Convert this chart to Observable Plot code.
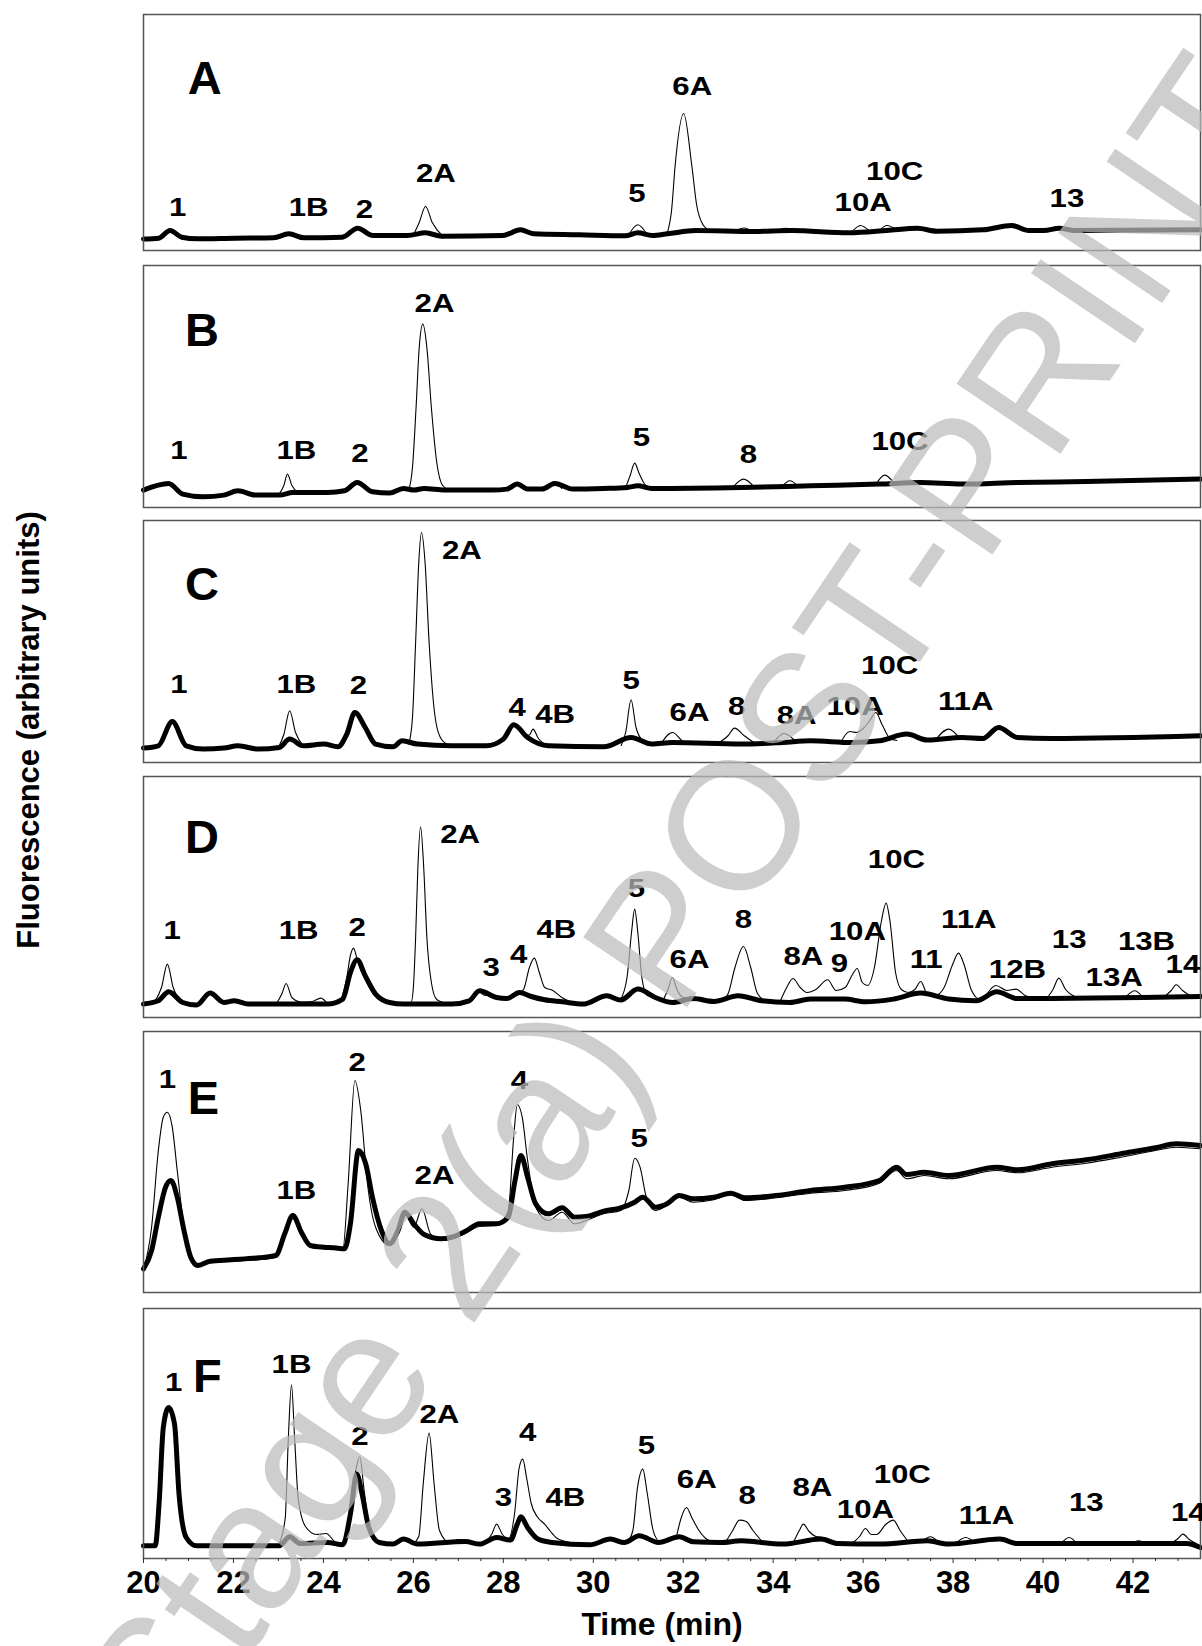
<!DOCTYPE html>
<html><head><meta charset="utf-8">
<script src="https://cdn.jsdelivr.net/npm/d3@7"></script>
<script src="https://cdn.jsdelivr.net/npm/@observablehq/plot@0.6"></script>
<style>
body{margin:0;background:#fff;}
#page{position:relative;width:1202px;height:1646px;overflow:hidden;background:#fff;font-family:"Liberation Sans",Arial,sans-serif;}
.panel{position:absolute;left:0;}
.overlay{position:absolute;left:0;top:0;pointer-events:none;}
</style></head><body><div id="page"></div>
<script>
// ---------- data (time in min, fluorescence in arbitrary units) ----------
const xMajorTicks = [20,22,24,26,28,30,32,34,36,38,40,42];
const xMinorTicks = [20.5,21,21.5,22.5,23,23.5,24.5,25,25.5,26.5,27,27.5,28.5,29,29.5,30.5,31,31.5,32.5,33,33.5,34.5,35,35.5,36.5,37,37.5,38.5,39,39.5,40.5,41,41.5,42.5,43];

// Panel A
const thickA = [[20,11.5],[20.34,12.3],[20.59,20],[20.85,13.3],[21.19,11.7],[22.04,12.3],[22.89,12.7],[23.23,16.7],[23.57,12.7],[24.42,13.3],[24.76,22.3],[25.1,15],[25.87,15],[26.27,17.7],[26.63,14.3],[27.99,15],[28.38,20.7],[28.67,16.7],[29.69,15.7],[30.71,14.7],[30.99,17.7],[31.31,15],[31.65,16.7],[32.28,20],[33.56,19],[34.41,20],[35.68,17.7],[36.53,20],[37.21,22.3],[37.64,19.3],[38.66,20.7],[39.3,25],[39.68,20],[40.02,20],[40.36,22.3],[40.7,20],[43.5,20.7]];
const thinA = [
  [[26.0,15.5],[26.13,28],[26.27,44],[26.42,28],[26.65,14.5]],
  [[30.78,15],[30.99,25.7],[31.2,15.5]],
  [[31.64,17],[31.74,40],[31.82,85],[32.01,137],[32.19,85],[32.3,45],[32.45,25],[32.6,19.5]],
  [[33.15,19.3],[33.35,22.5],[33.55,19]],
  [[34.1,20],[34.28,22.3],[34.45,20]],
  [[35.75,18.5],[35.94,25],[36.15,19]],
  [[36.35,19.5],[36.53,25],[36.75,20.5]],
  [[40.15,20],[40.36,24],[40.6,20]]
];
const labelsA = [["1",20.76,35],["1B",23.67,35],["2",24.91,32.7],["2A",26.5,68.3],["5",30.97,48.3],["6A",32.2,156],["10A",36.0,40],["10C",36.7,70.7],["13",40.53,43.3]];

// Panel B
const thickB = [[20,17.4],[20.56,24],[20.87,13.4],[21.33,10.7],[21.79,12.4],[22.1,16.7],[22.48,12.4],[23.02,12.4],[23.32,15],[24.09,15],[24.47,16.7],[24.75,25],[25.09,15.7],[25.47,14.4],[25.78,19],[26.01,17.4],[26.24,19],[26.7,17.4],[27.77,17.4],[28.08,18.4],[28.31,23.4],[28.54,18.4],[28.85,18.4],[29.15,24],[29.54,18.4],[30.23,19],[30.76,20],[30.99,21.7],[31.3,19],[33.29,20],[34.83,21.7],[36.36,23.4],[37.28,25],[38.2,23.4],[39.43,25],[40.96,26],[43.5,28.4]];
const thinB = [
  [[23.0,12.4],[23.12,22],[23.2,33.4],[23.3,22],[23.45,14]],
  [[25.9,17.5],[25.98,40],[26.06,100],[26.13,160],[26.21,183.4],[26.3,160],[26.4,100],[26.52,45],[26.65,22],[26.8,17.4]],
  [[29.0,19],[29.12,26],[29.3,19]],
  [[30.72,20],[30.82,32],[30.92,44.4],[31.02,34],[31.15,23],[31.3,19]],
  [[33.1,20],[33.34,28.4],[33.58,20.5]],
  [[34.2,21],[34.37,26.7],[34.55,21.3]],
  [[36.28,23],[36.48,32.4],[36.7,23.6]]
];
const labelsB = [["1",20.79,48.4],["1B",23.4,48.4],["2",24.81,45.7],["2A",26.47,195.7],["5",31.07,61.7],["8",33.45,45],["10C",36.82,57.4]];

// Panel C
const thickC = [[20,14.4],[20.33,16.7],[20.64,41],[20.95,16.7],[21.33,13.4],[21.79,14.4],[22.1,16.7],[22.56,13.4],[23.02,15],[23.25,23.4],[23.55,16.7],[24.01,18.4],[24.32,15.7],[24.52,28.4],[24.7,50],[24.93,35],[25.16,18.4],[25.55,15.7],[25.75,21.7],[26.09,18.4],[26.85,16.7],[27.62,16.7],[28.0,23.4],[28.23,37.7],[28.54,25],[29.0,16.7],[30.23,15.7],[30.84,25],[31.3,18.4],[31.76,20],[33.29,18.4],[34.21,20],[34.83,21.7],[35.75,20],[36.36,21.7],[36.97,28.4],[37.43,22.4],[38.2,25],[38.66,24],[39.01,35],[39.43,25],[40.2,24],[43.5,26.7]];
const thinC = [
  [[23.0,15],[23.12,28],[23.25,51.7],[23.38,30],[23.55,17]],
  [[25.9,18.5],[25.98,45],[26.05,120],[26.12,200],[26.18,230],[26.26,200],[26.35,120],[26.47,50],[26.6,25],[26.78,17.4]],
  [[28.5,27],[28.58,27.5],[28.66,33.4],[28.78,24],[29.0,17]],
  [[30.62,17],[30.72,30],[30.84,62.7],[30.95,35],[31.1,22],[31.3,18.4]],
  [[31.5,18.5],[31.76,30],[32.0,21],[32.2,19]],
  [[32.75,18.5],[33.0,27],[33.14,34.4],[33.35,27],[33.6,19]],
  [[34.0,19.5],[34.24,29],[34.5,21]],
  [[35.5,20],[35.7,31],[35.85,30],[36.0,34],[36.15,42],[36.28,50],[36.42,38],[36.6,24],[36.75,22]],
  [[37.6,22],[37.9,33.4],[38.15,24]]
];
const labelsC = [["1",20.79,70],["1B",23.4,70],["2",24.78,68.4],["2A",27.08,203.4],["4",28.31,46.7],["4B",29.15,40],["5",30.84,73.4],["6A",32.14,41.7],["8",33.19,47.7],["8A",34.52,38.4],["10A",35.82,47.7],["10C",36.59,88.4],["11A",38.28,52.7]];

// Panel D
const thickD = [[20,13.4],[20.33,16.7],[20.56,25.7],[20.87,15],[21.18,12.4],[21.48,24.4],[21.79,15],[22.02,16.7],[22.33,13.4],[24.09,13.4],[24.43,18.4],[24.6,45],[24.75,57.7],[24.93,41.7],[25.16,23.4],[25.47,15],[25.78,13.4],[26.85,13.4],[27.24,16.7],[27.47,26.7],[27.85,20],[28.08,19],[28.36,25],[28.62,21],[28.92,17.7],[29.31,15.7],[29.77,13.4],[30.3,21.7],[30.61,17.4],[30.99,28.4],[31.38,20],[31.76,15],[32.22,19],[32.68,16],[33.22,21.7],[33.75,16.7],[34.37,15],[34.83,18.4],[35.59,18.4],[36.05,15.7],[36.67,18.4],[37.28,24.4],[37.9,18.4],[38.51,16.7],[38.97,25.7],[39.43,19],[43.5,21]];
const thinD = [
  [[20.25,16],[20.4,30],[20.53,53.4],[20.66,30],[20.85,15.5]],
  [[22.95,13.5],[23.08,24],[23.17,34],[23.3,20],[23.5,15.5],[23.75,16],[23.94,19.4],[24.1,13.4]],
  [[24.4,18.4],[24.52,40],[24.6,62],[24.67,69.4],[24.75,58],[24.85,45]],
  [[25.7,14],[25.95,15],[26.0,30],[26.05,80],[26.1,150],[26.16,190.7],[26.23,150],[26.3,80],[26.4,35],[26.52,18],[26.75,14]],
  [[27.47,26.7],[27.6,22],[27.73,23.4],[27.9,19.5],[28.05,19]],
  [[28.36,25],[28.45,28],[28.58,50],[28.69,59.4],[28.8,45],[28.92,30],[29.1,27],[29.3,20],[29.5,15.5]],
  [[30.6,17.4],[30.75,40],[30.85,85],[30.92,108.4],[30.99,85],[31.08,40],[31.2,22],[31.4,20]],
  [[31.55,17],[31.66,28],[31.76,40],[31.86,28],[32.0,20],[32.2,19]],
  [[32.85,16],[33.0,24],[33.15,50],[33.34,71],[33.5,50],[33.65,24],[33.85,16]],
  [[34.15,15.5],[34.3,30],[34.44,39],[34.6,30],[34.75,25],[34.95,28],[35.21,37.7],[35.4,27],[35.6,30],[35.75,42],[35.87,49],[35.98,35],[36.1,32],[36.25,50],[36.4,95],[36.51,114.4],[36.6,95],[36.72,45],[36.85,28],[37.0,25],[37.15,28],[37.28,36],[37.42,24],[37.6,22],[37.8,30],[37.98,52],[38.12,64.4],[38.25,52],[38.4,28],[38.6,18],[38.95,32],[39.2,27],[39.4,28.4],[39.6,22],[39.8,20]],
  [[40.1,20],[40.22,28],[40.35,39.4],[40.5,28],[40.7,21]],
  [[41.85,21],[42.04,26.7],[42.2,21]],
  [[42.7,21],[42.85,27],[42.96,32.7],[43.1,27],[43.3,21]]
];
const labelsD = [["1",20.64,78.4],["1B",23.45,78.4],["2",24.75,81.7],["2A",27.04,174.4],["3",27.73,41.7],["4",28.34,54.4],["4B",29.18,80],["5",30.96,120.7],["6A",32.14,49.4],["8",33.34,90],["8A",34.67,52.7],["9",35.47,46],["10A",35.87,77.4],["10C",36.74,150],["11",37.4,49.4],["11A",38.35,90],["12B",39.43,39.4],["13",40.58,70],["13A",41.58,31.7],["13B",42.3,67.7],["14",43.11,45]];

// Panel E
const thickE = [[20,23.7],[20.18,42],[20.33,75.3],[20.49,105.3],[20.61,112],[20.75,95.3],[20.9,62],[21.05,35.3],[21.21,27],[21.48,31.3],[21.94,32.7],[22.56,34.7],[22.94,37],[23.14,58.7],[23.32,77],[23.51,60.3],[23.71,47],[24.01,45.3],[24.24,44.7],[24.47,43.7],[24.6,68.7],[24.78,142],[24.94,128.7],[25.09,95.3],[25.29,62],[25.47,48.7],[25.66,62],[25.81,80.3],[26.01,68.7],[26.24,58],[26.62,53.7],[26.85,55.3],[27.16,61.3],[27.47,68.7],[27.85,68.7],[28.11,75.3],[28.26,112],[28.39,137],[28.54,115.3],[28.72,88.7],[29.0,78.7],[29.31,84.7],[29.58,75.3],[29.84,76],[30.23,81.3],[30.61,84.7],[30.92,90.3],[31.1,95.3],[31.38,85.3],[31.64,88.7],[31.91,97],[32.22,93.7],[32.68,95.3],[33.06,99.3],[33.37,94.7],[34.06,97],[34.83,102],[35.59,105.3],[36.36,112],[36.74,125.3],[36.97,118],[37.36,120.3],[37.9,117],[38.97,125.3],[39.43,122.7],[40.2,128.7],[40.96,132.7],[41.73,138.7],[42.5,144.7],[42.96,148.7],[43.5,147]];
const thinE = [
  [[20,22],[20.18,65.3],[20.33,142],[20.44,175.3],[20.53,180.3],[20.64,165.3],[20.75,122],[20.9,65.3],[21.05,37],[21.21,28],[21.48,29.7],[21.94,31.3],[22.56,32.7],[22.94,35.3],[23.14,55.3],[23.32,73.7],[23.51,58],[23.71,45.3],[24.09,43.7],[24.43,42.7],[24.55,108.7],[24.7,212],[24.83,182],[24.98,108.7],[25.16,65.3],[25.47,47],[25.66,60.3],[25.81,78],[26.01,65.3],[26.19,83.7],[26.39,58],[26.7,52],[27.16,59.3],[27.47,66],[27.85,67],[28.11,82],[28.23,155.3],[28.31,188],[28.42,175.3],[28.54,132],[28.72,85.3],[29.0,72],[29.31,80.3],[29.58,68.7],[29.84,72],[30.23,78.7],[30.61,82],[30.79,102],[30.92,134.3],[31.04,125.3],[31.18,95.3],[31.38,82],[31.64,87],[31.91,95.3],[32.22,90.3],[32.68,92.7],[33.06,98],[33.37,92],[34.06,94.7],[34.83,99.3],[35.59,102],[36.36,109.3],[36.74,122],[36.97,113.7],[37.36,117],[37.9,113.7],[38.97,122],[39.43,119.7],[40.2,125.3],[40.96,129.3],[41.73,135.3],[42.5,142],[42.96,145.3],[43.5,143.7]]
];
const labelsE = [["1",20.53,204.7],["1B",23.4,93.7],["2",24.75,222],["2A",26.47,108.7],["4",28.36,203.7],["5",31.02,145.3]];

// Panel F
const thickF = [[20,12.7],[20.26,12.7],[20.35,57.7],[20.44,131],[20.56,151],[20.69,134.4],[20.79,64.4],[20.95,21],[21.18,12.7],[23.02,12.7],[23.25,21.7],[23.48,15],[24.09,16],[24.43,13.7],[24.6,44.4],[24.74,84.4],[24.86,64.4],[25.01,31],[25.24,16],[25.55,14.4],[25.78,19.4],[26.09,14.4],[27.16,17],[27.47,14.4],[27.85,21],[28.16,18.4],[28.31,34.4],[28.39,41.7],[28.54,31],[28.77,19.4],[29.08,16],[29.92,13.7],[30.38,19.4],[30.69,16],[31.02,22.7],[31.45,16],[31.91,21.7],[32.22,16.7],[32.83,16],[33.29,17.7],[34.21,14.4],[35.06,19.4],[35.44,15],[36.36,14.4],[37.43,17.7],[37.9,14.4],[39.04,19.4],[39.43,15],[43.19,15],[43.5,11]];
const thinF = [
  [[23.0,13],[23.15,40],[23.22,120],[23.29,173.7],[23.36,120],[23.44,60],[23.6,32],[23.85,24],[24.06,25],[24.25,17],[24.43,13.7]],
  [[24.43,13.7],[24.6,44.4],[24.72,88],[24.81,101.7],[24.9,70],[25.02,32],[25.24,16]],
  [[26.0,15],[26.12,22],[26.22,75],[26.35,125.4],[26.46,75],[26.58,28],[26.8,16],[27.0,19],[27.3,15]],
  [[27.6,15],[27.75,25],[27.85,34.4],[27.98,24],[28.12,20],[28.25,45],[28.35,90],[28.43,99.4],[28.52,80],[28.62,55],[28.75,42],[28.92,34.4],[29.05,27],[29.2,20],[29.5,16]],
  [[30.75,16],[30.88,28],[30.98,70],[31.1,89.4],[31.2,65],[31.32,30],[31.45,17]],
  [[31.85,22],[31.95,40],[32.07,51],[32.2,40],[32.35,28],[32.5,20],[32.7,16]],
  [[32.95,17],[33.1,28],[33.25,38.4],[33.4,37],[33.55,28],[33.75,17]],
  [[34.45,16],[34.58,28],[34.67,34.4],[34.8,27],[34.95,22],[35.1,21],[35.3,18]],
  [[35.75,15],[35.92,22],[36.05,30],[36.18,24],[36.3,24],[36.5,34],[36.67,38.4],[36.82,28],[37.0,17]],
  [[37.3,16.5],[37.5,21.7],[37.7,15]],
  [[38.05,15],[38.28,21],[38.5,15]],
  [[40.4,15],[40.58,21],[40.75,15]],
  [[41.95,15],[42.12,17.7],[42.3,15]],
  [[42.85,15],[43.0,20],[43.11,24.4],[43.25,19],[43.4,15]]
];
const labelsF = [["1",20.67,167.7],["1B",23.29,186],["2",24.81,113.7],["2A",26.58,136],["3",28.0,52.7],["4",28.54,117.7],["4B",29.38,52.7],["5",31.18,104.4],["6A",32.3,71],["8",33.42,54.4],["8A",34.87,62.7],["10A",36.05,41],["10C",36.87,76],["11A",38.74,34.4],["13",40.96,47.7],["14",43.23,37.7]];

const panelLetters = [["A",21.36,157],["B",21.3,162],["C",21.3,163],["D",21.3,165],["E",21.33,179],["F",21.42,167]];

// ---------- layout ----------
const FONT = "'Liberation Sans', Arial, Helvetica, sans-serif";
const panels = [
  {top:14, h:236, thick:thickA, thin:thinA, labels:labelsA, letter:panelLetters[0]},
  {top:265, h:242, thick:thickB, thin:thinB, labels:labelsB, letter:panelLetters[1]},
  {top:520, h:242, thick:thickC, thin:thinC, labels:labelsC, letter:panelLetters[2]},
  {top:776, h:241, thick:thickD, thin:thinD, labels:labelsD, letter:panelLetters[3]},
  {top:1031, h:261, thick:thickE, thin:thinE, labels:labelsE, letter:panelLetters[4]},
  {top:1308, h:250, thick:thickF, thin:thinF, labels:labelsF, letter:panelLetters[5], axis:true}
];

const page = document.getElementById("page");
const MT = 2;

// widen a text element horizontally about its own anchor point
function widen(el, s) {
  const x = +(el.getAttribute("x") || 0), y = +(el.getAttribute("y") || 0);
  const t = el.getAttribute("transform") || "";
  el.setAttribute("transform", `${t} translate(${x},${y}) scale(${s},1) translate(${-x},${-y})`);
}

panels.forEach((p) => {
  const thinRows = p.thin.flatMap((seg, i) => seg.map(([t, v]) => ({t, v, s: i})));
  const thickRows = p.thick.map(([t, v]) => ({t, v}));
  const mb = p.axis ? 48 : 2;
  const marks = [
    Plot.line(thinRows, {x: "t", y: "v", z: "s", stroke: "#000", strokeWidth: 1.1, curve: "monotone-x"}),
    Plot.line(thickRows, {x: "t", y: "v", stroke: "#000", strokeWidth: 5, curve: "monotone-x", strokeLinejoin: "round", strokeLinecap: "round"}),
    Plot.frame({stroke: "#555", strokeWidth: 1.5}),
    Plot.text(p.labels, {x: d => d[1], y: d => d[2], text: d => d[0], fontSize: 26, fontWeight: "bold", fill: "#000", lineAnchor: "bottom", textAnchor: "middle", className: "peaklbl"}),
    Plot.text([p.letter], {x: d => d[1], y: d => d[2], text: d => d[0], fontSize: 47, fontWeight: "bold", fill: "#000", lineAnchor: "bottom", textAnchor: "middle"})
  ];
  if (p.axis) {
    marks.push(Plot.axisX({ticks: xMinorTicks, tickSize: 3, tickFormat: () => "", stroke: "#333"}));
    marks.push(Plot.axisX({ticks: xMajorTicks, tickSize: 5, tickPadding: 7, fontSize: 31, fontWeight: "bold", fill: "#000", stroke: "#333", tickFormat: d => String(d)}));
  }
  const chart = Plot.plot({
    width: 1202,
    height: p.h + MT + mb,
    marginLeft: 143,
    marginRight: 2,
    marginTop: MT,
    marginBottom: mb,
    x: {domain: [20, 43.5], axis: null, label: null},
    y: {domain: [0, p.h], axis: null, label: null},
    style: {fontFamily: FONT, background: "transparent", overflow: "visible", color: "#000"},
    marks
  });
  chart.classList.add("panel");
  chart.style.top = (p.top - MT) + "px";
  // peak-label text elements: font-size 26 groups
  chart.querySelectorAll("g").forEach(g => {
    if (g.classList.contains("peaklbl") || g.getAttribute("font-size") === "26") {
      g.querySelectorAll("text").forEach(el => widen(el, 1.2));
    }
  });
  page.appendChild(chart);
});

// axis titles and watermark
const NS = "http://www.w3.org/2000/svg";
const ov = document.createElementNS(NS, "svg");
ov.setAttribute("width", 1202); ov.setAttribute("height", 1646);
ov.setAttribute("class", "overlay");
const ff = FONT.replace(/'/g, '&quot;');
ov.innerHTML = `
  <text transform="translate(39,730) rotate(-90)" text-anchor="middle" font-family="${ff}" font-size="31" font-weight="bold" fill="#000">Fluorescence (arbitrary units)</text>
  <text x="662" y="1635" text-anchor="middle" font-family="${ff}" font-size="32" font-weight="bold" fill="#000">Time (min)</text>
  <text transform="translate(680,905) rotate(-56)" text-anchor="middle" dominant-baseline="central" font-family="${ff}" font-size="182" fill="rgb(187,187,187)" fill-opacity="0.72">Stage 2(a) POST-PRINT</text>
`;
page.appendChild(ov);
</script>
</body></html>
